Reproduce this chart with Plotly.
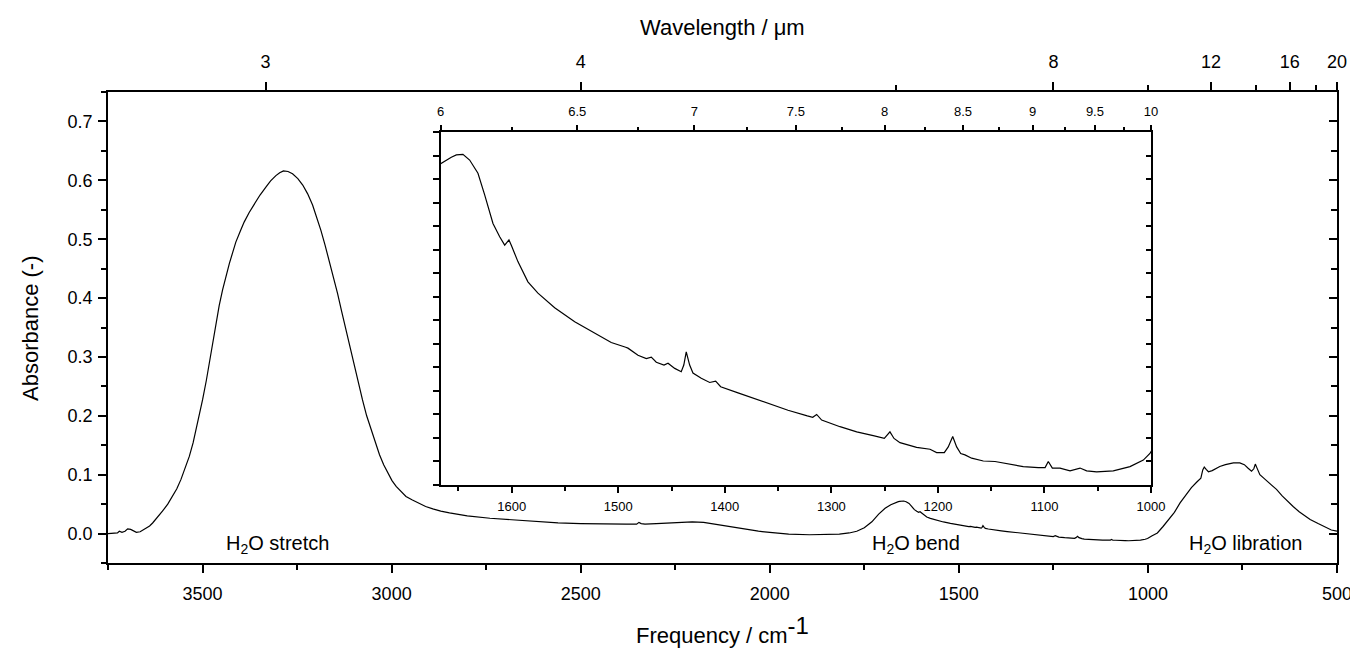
import plotly.graph_objects as go

# spectrum (frequency in cm-1, absorbance)
wavenumber = [
    3750, 3735, 3725, 3720, 3713, 3705, 3698, 3690, 3683, 3675, 3665, 3654, 3640, 3632, 3620,
    3606, 3592, 3579, 3568, 3557, 3546, 3535, 3525, 3517, 3508, 3500, 3490, 3482, 3473, 3465,
    3456, 3447, 3438, 3429, 3420, 3412, 3400, 3390, 3377, 3363, 3348, 3332, 3320, 3306, 3296,
    3286, 3274, 3262, 3248, 3235, 3222, 3209, 3198, 3187, 3176, 3165, 3154, 3143, 3132, 3121,
    3110, 3099, 3088, 3077, 3066, 3054, 3043, 3032, 3021, 3010, 2999, 2988, 2975, 2962, 2945,
    2927, 2910, 2891, 2870, 2847, 2800, 2740, 2680, 2620, 2560, 2500, 2440, 2380, 2352, 2346,
    2340, 2330, 2300, 2265, 2235, 2205, 2175, 2145, 2110, 2066, 2030, 2000, 1950, 1895, 1850,
    1816, 1790, 1770, 1750, 1730, 1712, 1695, 1680,
    1666.7, 1660, 1656.7, 1652, 1645.8, 1639.5, 1631.7, 1625.4, 1617.6, 1611.3, 1606.6, 1602.6,
    1600.4, 1594.2, 1584.8, 1575.4, 1559.7, 1540.9, 1522.2, 1506.6, 1493, 1490.9, 1481.5, 1473.7,
    1469, 1464.3, 1457.1, 1453.3, 1447, 1440.9, 1438.5, 1436.2, 1433, 1429.9, 1422.1, 1414.2,
    1408.6, 1403.9, 1387.6, 1372, 1356.4, 1340.7, 1322.6, 1317.5, 1313.8, 1309.1, 1291.9, 1276.2,
    1260.7, 1250.3, 1245, 1241.2, 1235.6, 1220, 1207.4, 1201.2, 1194, 1190.3, 1186.1, 1182.4,
    1178.6, 1174.6, 1168.3, 1157.4, 1146.4, 1135.4, 1119.9, 1105.8, 1099.4, 1096.4, 1092.6,
    1085.4, 1076, 1066.6, 1060.4, 1051, 1035.4, 1019.7, 1007.2, 1001,
    990, 975, 960, 945, 930, 915, 900, 885, 870, 860, 855, 851, 846, 840, 830, 820, 810, 795,
    774, 757, 745, 735, 726, 720, 716, 712, 704, 690, 675, 660, 645, 630, 616, 600, 585, 571,
    550, 530, 515, 500,
]
absorbance = [
    0.000, 0.000, 0.001, 0.004, 0.002, 0.004, 0.008, 0.007, 0.004, 0.002, 0.003, 0.007, 0.013, 0.018, 0.027,
    0.038, 0.050, 0.063, 0.076, 0.092, 0.110, 0.131, 0.154, 0.176, 0.200, 0.227, 0.260, 0.289, 0.323, 0.357,
    0.387, 0.414, 0.438, 0.459, 0.478, 0.495, 0.514, 0.529, 0.545, 0.560, 0.575, 0.589, 0.599, 0.608, 0.613,
    0.616, 0.615, 0.611, 0.603, 0.592, 0.577, 0.558, 0.537, 0.515, 0.490, 0.464, 0.436, 0.408, 0.377, 0.346,
    0.315, 0.284, 0.255, 0.227, 0.200, 0.176, 0.154, 0.134, 0.117, 0.103, 0.090, 0.080, 0.071, 0.063, 0.057,
    0.051, 0.046, 0.042, 0.038, 0.035, 0.030, 0.026, 0.023, 0.020, 0.018, 0.017, 0.016, 0.016, 0.016, 0.019,
    0.017, 0.016, 0.017, 0.018, 0.019, 0.020, 0.019, 0.016, 0.012, 0.007, 0.004, 0.002, -0.001, -0.002, -0.002,
    -0.001, 0.001, 0.004, 0.010, 0.020, 0.033, 0.043, 0.049,
    0.0533, 0.0543, 0.0547, 0.0552, 0.0553, 0.0541, 0.0513, 0.0467, 0.0406, 0.0378, 0.0360, 0.0371,
    0.0360, 0.0325, 0.0282, 0.0258, 0.0227, 0.0197, 0.0173, 0.0153, 0.0143, 0.0141, 0.0126, 0.0119,
    0.0122, 0.0111, 0.0105, 0.0109, 0.0098, 0.0091, 0.0105, 0.0133, 0.0105, 0.0088, 0.0077, 0.0068,
    0.0071, 0.0059, 0.0046, 0.0034, 0.0022, 0.0009, -0.0003, -0.0006, 0.0000, -0.0012, -0.0026, -0.0037,
    -0.0045, -0.0051, -0.0037, -0.0051, -0.0060, -0.0070, -0.0074, -0.0081, -0.0081, -0.0069, -0.0047, -0.0069,
    -0.0083, -0.0086, -0.0093, -0.0099, -0.0100, -0.0104, -0.0111, -0.0113, -0.0113, -0.0100, -0.0114,
    -0.0114, -0.0120, -0.0114, -0.0120, -0.0122, -0.0120, -0.0111, -0.0097, -0.0083,
    -0.004, 0.001, 0.012, 0.025, 0.036, 0.052, 0.066, 0.078, 0.088, 0.094, 0.108, 0.113, 0.109, 0.105, 0.107, 0.111, 0.114, 0.117,
    0.120, 0.120, 0.117, 0.111, 0.106, 0.110, 0.118, 0.112, 0.100, 0.092, 0.084, 0.075, 0.064, 0.054, 0.046, 0.037, 0.030, 0.024,
    0.017, 0.010, 0.006, 0.004,
]

freq_ticks = [3500, 3000, 2500, 2000, 1500, 1000, 500]
absorb_ticks = [0.0, 0.1, 0.2, 0.3, 0.4, 0.5, 0.6, 0.7]
wl_major = [3, 4, 8, 12, 16, 20]
wl_minor = [6, 10, 14, 18]
inset_freq_ticks = [1600, 1500, 1400, 1300, 1200, 1100, 1000]
inset_wl_major = [6, 6.5, 7, 7.5, 8, 8.5, 9, 9.5, 10]
inset_wl_minor = [6.25, 6.75, 7.25, 7.75, 8.25, 8.75, 9.25, 9.75]

band_names = ["H<sub>2</sub>O stretch", "H<sub>2</sub>O bend", "H<sub>2</sub>O libration"]
band_pos = [3302, 1613, 743]

FONT = "Arial, Liberation Sans, sans-serif"
main_range = [3750, 500]
inset_range = [10000 / 6, 1000]

# the page body adds an 8 px margin, so the figure is 8 px smaller on each axis
PAGE_PAD = 8

fig = go.Figure()

fig.add_trace(go.Scatter(x=wavenumber, y=absorbance, mode="lines",
                         line=dict(color="black", width=1.2),
                         xaxis="x", yaxis="y", showlegend=False))
# carriers for the top / right axes
fig.add_trace(go.Scatter(x=wavenumber, y=absorbance, mode="lines",
                         line=dict(color="rgba(0,0,0,0)", width=0),
                         xaxis="x2", yaxis="y2", showlegend=False, hoverinfo="skip"))
fig.add_trace(go.Scatter(x=wavenumber, y=absorbance, mode="lines",
                         line=dict(color="black", width=1.2),
                         xaxis="x3", yaxis="y3", showlegend=False))
fig.add_trace(go.Scatter(x=wavenumber, y=absorbance, mode="lines",
                         line=dict(color="rgba(0,0,0,0)", width=0),
                         xaxis="x4", yaxis="y4", showlegend=False, hoverinfo="skip"))

axis_common = dict(showline=True, linecolor="black", linewidth=1.5, showgrid=False,
                   zeroline=False, tickcolor="black", tickwidth=1.5)

inset_x = [(440.7 - 108) / 1229, (1151 - 108) / 1229]
inset_y = [(563 - 485) / 471, (563 - 132.3) / 471]

fig.update_layout(
    width=1358 - PAGE_PAD, height=653 - PAGE_PAD,
    margin=dict(l=108 - PAGE_PAD, r=21, t=92 - PAGE_PAD, b=90, autoexpand=False),
    paper_bgcolor="white", plot_bgcolor="white",
    font=dict(family=FONT, size=18, color="black"),
    xaxis=dict(axis_common, domain=[0, 1], range=main_range, anchor="y",
               tickmode="array", tickvals=freq_ticks, ticks="outside", ticklen=8,
               ticklabelstandoff=6,
               minor=dict(tickmode="linear", tick0=500, dtick=250, ticks="outside",
                          ticklen=5, tickwidth=1.5, tickcolor="black")),
    xaxis2=dict(axis_common, range=main_range, overlaying="x", side="top", anchor="y",
                tickmode="array", tickvals=[10000 / w for w in wl_major],
                ticktext=[str(w) for w in wl_major], ticks="outside", ticklen=8,
                ticklabelstandoff=7,
                minor=dict(tickmode="array", tickvals=[10000 / w for w in wl_minor],
                           ticks="outside", ticklen=5, tickwidth=1.5, tickcolor="black")),
    yaxis=dict(axis_common, domain=[0, 1], range=[-0.05, 0.75], anchor="x",
               tickmode="array", tickvals=absorb_ticks, tickformat=".1f",
               ticks="outside", ticklen=8, ticklabelstandoff=2,
               minor=dict(tickmode="linear", tick0=0, dtick=0.05, ticks="outside",
                          ticklen=5, tickwidth=1.5, tickcolor="black")),
    yaxis2=dict(axis_common, range=[-0.05, 0.75], overlaying="y", side="right", anchor="x",
                tickmode="array", tickvals=absorb_ticks, showticklabels=False,
                ticks="inside", ticklen=8,
                minor=dict(tickmode="linear", tick0=0, dtick=0.05, ticks="inside",
                           ticklen=6, tickwidth=1.5, tickcolor="black")),
    xaxis3=dict(axis_common, domain=inset_x, range=inset_range, anchor="y3",
                tickmode="array", tickvals=inset_freq_ticks, ticks="outside", ticklen=6,
                tickfont=dict(size=13), ticklabelstandoff=3,
                minor=dict(tickmode="linear", tick0=1000, dtick=50, ticks="outside",
                           ticklen=4, tickwidth=1.5, tickcolor="black")),
    xaxis4=dict(axis_common, range=inset_range, overlaying="x3", side="top", anchor="y3",
                tickmode="array", tickvals=[10000 / w for w in inset_wl_major],
                ticktext=[f"{w:g}" for w in inset_wl_major], ticks="outside", ticklen=6,
                tickfont=dict(size=13), ticklabelstandoff=3,
                minor=dict(tickmode="array", tickvals=[10000 / w for w in inset_wl_minor],
                           ticks="outside", ticklen=4, tickwidth=1.5, tickcolor="black")),
    yaxis3=dict(axis_common, domain=inset_y, range=[-0.015, 0.06], anchor="x3",
                tickmode="linear", tick0=0, dtick=0.005, showticklabels=False,
                ticks="outside", ticklen=6),
    yaxis4=dict(axis_common, range=[-0.015, 0.06], overlaying="y3", side="right", anchor="x3",
                tickmode="linear", tick0=0, dtick=0.005, showticklabels=False,
                ticks="inside", ticklen=5),
)

for name, pos in zip(band_names, band_pos):
    fig.add_annotation(x=pos, y=-0.019, xref="x", yref="y", text=name, showarrow=False,
                       font=dict(size=20, family=FONT), xanchor="center", yanchor="middle")

fig.add_annotation(x=0.5, y=(563 - 630) / 471, xref="paper", yref="paper",
                   text="Frequency / cm<sup><span style='font-size:24px'>-1</span></sup>",
                   showarrow=False,
                   font=dict(size=22, family=FONT), xanchor="center", yanchor="middle")
fig.add_annotation(x=0.5, y=(563 - 27) / 471, xref="paper", yref="paper",
                   text="Wavelength / \u03bcm", showarrow=False,
                   font=dict(size=22, family=FONT), xanchor="center", yanchor="middle")
fig.add_annotation(x=(30 - 108) / 1229, y=(563 - 328) / 471, xref="paper", yref="paper",
                   text="Absorbance (-)", showarrow=False, textangle=-90,
                   font=dict(size=22, family=FONT), xanchor="center", yanchor="middle")

fig.write_html("out.html")
